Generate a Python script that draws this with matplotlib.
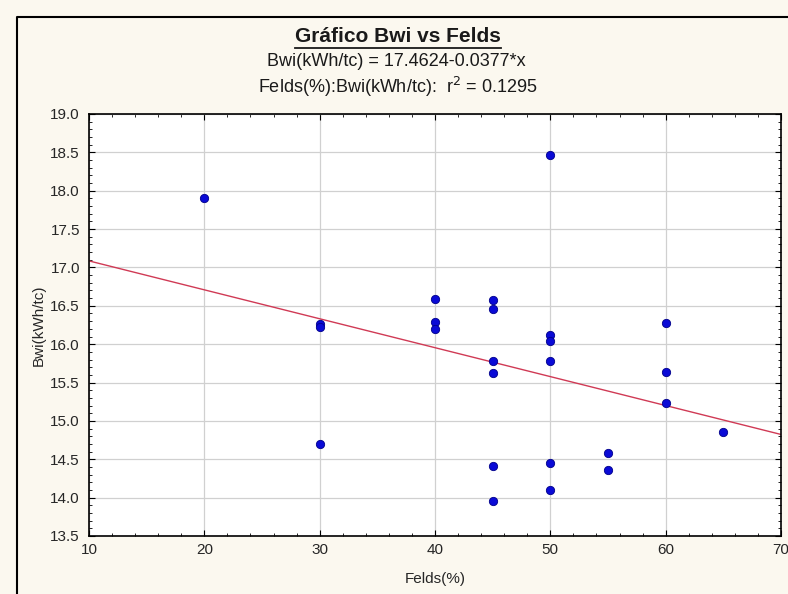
import numpy as np
import matplotlib
matplotlib.use('Agg')
import matplotlib.pyplot as plt
from matplotlib.ticker import MultipleLocator
from matplotlib.lines import Line2D

# datos
felds = [20, 30, 30, 30, 40, 40, 40,
         45, 45, 45, 45, 45, 45,
         50, 50, 50, 50, 50, 50,
         55, 55, 60, 60, 60, 65]
bwi = [17.90, 16.26, 16.22, 14.70, 16.59, 16.29, 16.20,
       16.58, 16.46, 15.78, 15.62, 14.41, 13.95,
       18.46, 16.12, 16.04, 15.78, 14.45, 14.10,
       14.58, 14.36, 16.27, 15.64, 15.23, 14.85]

# recta de regresion (de la ecuacion del grafico)
intercept = 17.4624
slope = -0.0377
r2 = 0.1295

x_ticks = [10, 20, 30, 40, 50, 60, 70]
y_ticks = [13.5, 14.0, 14.5, 15.0, 15.5, 16.0, 16.5, 17.0, 17.5, 18.0, 18.5, 19.0]

plt.rcParams['font.family'] = ['Liberation Sans', 'DejaVu Sans']

fig = plt.figure(figsize=(7.88, 5.94), dpi=100, facecolor='#fbf8ef')
ax = fig.add_axes([89 / 788, 1 - 536 / 594, (781 - 89) / 788, (536 - 114) / 594])
ax.set_facecolor('white')

ax.set_xlim(10, 70)
ax.set_ylim(13.5, 19.0)
ax.set_xticks(x_ticks)
ax.set_yticks(y_ticks)
ax.set_yticklabels([f'{v:.1f}' for v in y_ticks])
ax.xaxis.set_minor_locator(MultipleLocator(2))
ax.yaxis.set_minor_locator(MultipleLocator(0.1))
ax.tick_params(which='both', direction='in', top=True, right=True,
               labelsize=11, colors='black', labelcolor='#262626')
ax.tick_params(which='major', length=4, width=0.8)
ax.tick_params(which='minor', length=2.5, width=0.6)
ax.tick_params(axis='x', pad=5)
ax.tick_params(axis='y', pad=6.5)
ax.grid(True, which='major', color='#d0d0d0', linewidth=0.9)
ax.set_axisbelow(True)
for s in ax.spines.values():
    s.set_linewidth(1.2)
    s.set_color('black')

xs = np.array([10, 70])
ax.plot(xs, intercept + slope * xs, color='#d03a55', linewidth=1.0, zorder=2)
ax.plot(felds, bwi, 'o', color='#0a0ad6', markeredgecolor='#00008a',
        markersize=6, markeredgewidth=0.6, zorder=3, clip_on=False)

ax.set_xlabel('Felds(%)', fontsize=11, color='#262626', labelpad=11)
ax.set_ylabel('Bwi(kWh/tc)', fontsize=11, color='#262626', labelpad=3)

narrow = ['Liberation Sans Narrow', 'Liberation Sans', 'DejaVu Sans']
title = fig.text(0.5 + 4 / 788, 1 - 37 / 594, 'Gráfico Bwi vs Felds', ha='center',
                 va='center', fontsize=15, fontweight='bold', family=narrow,
                 color='#1a1a1a')
fig.text(0.5 + 2 / 788, 1 - 62 / 594, 'Bwi(kWh/tc) = 17.4624-0.0377*x',
         ha='center', va='center', fontsize=13, family=narrow, color='#1a1a1a')
fig.text(0.5 + 4 / 788, 1 - 87 / 594,
         'Felds(%):Bwi(kWh/tc):  r$^2$ = ' + f'{r2:.4f}',
         ha='center', va='center', fontsize=13, family=narrow, color='#1a1a1a')

# subrayado del titulo
fig.canvas.draw()
bb = title.get_window_extent().transformed(fig.transFigure.inverted())
fig.add_artist(Line2D([bb.x0, bb.x1], [bb.y0 - 0.002, bb.y0 - 0.002],
                      transform=fig.transFigure, color='#1a1a1a', linewidth=1.3))

# marco exterior
fig.add_artist(Line2D([17 / 788, 17 / 788, 1.0], [0.0, 1 - 17 / 594, 1 - 17 / 594],
                      transform=fig.transFigure, color='black', linewidth=1.5))

fig.savefig('out.png', dpi=100, facecolor=fig.get_facecolor())
